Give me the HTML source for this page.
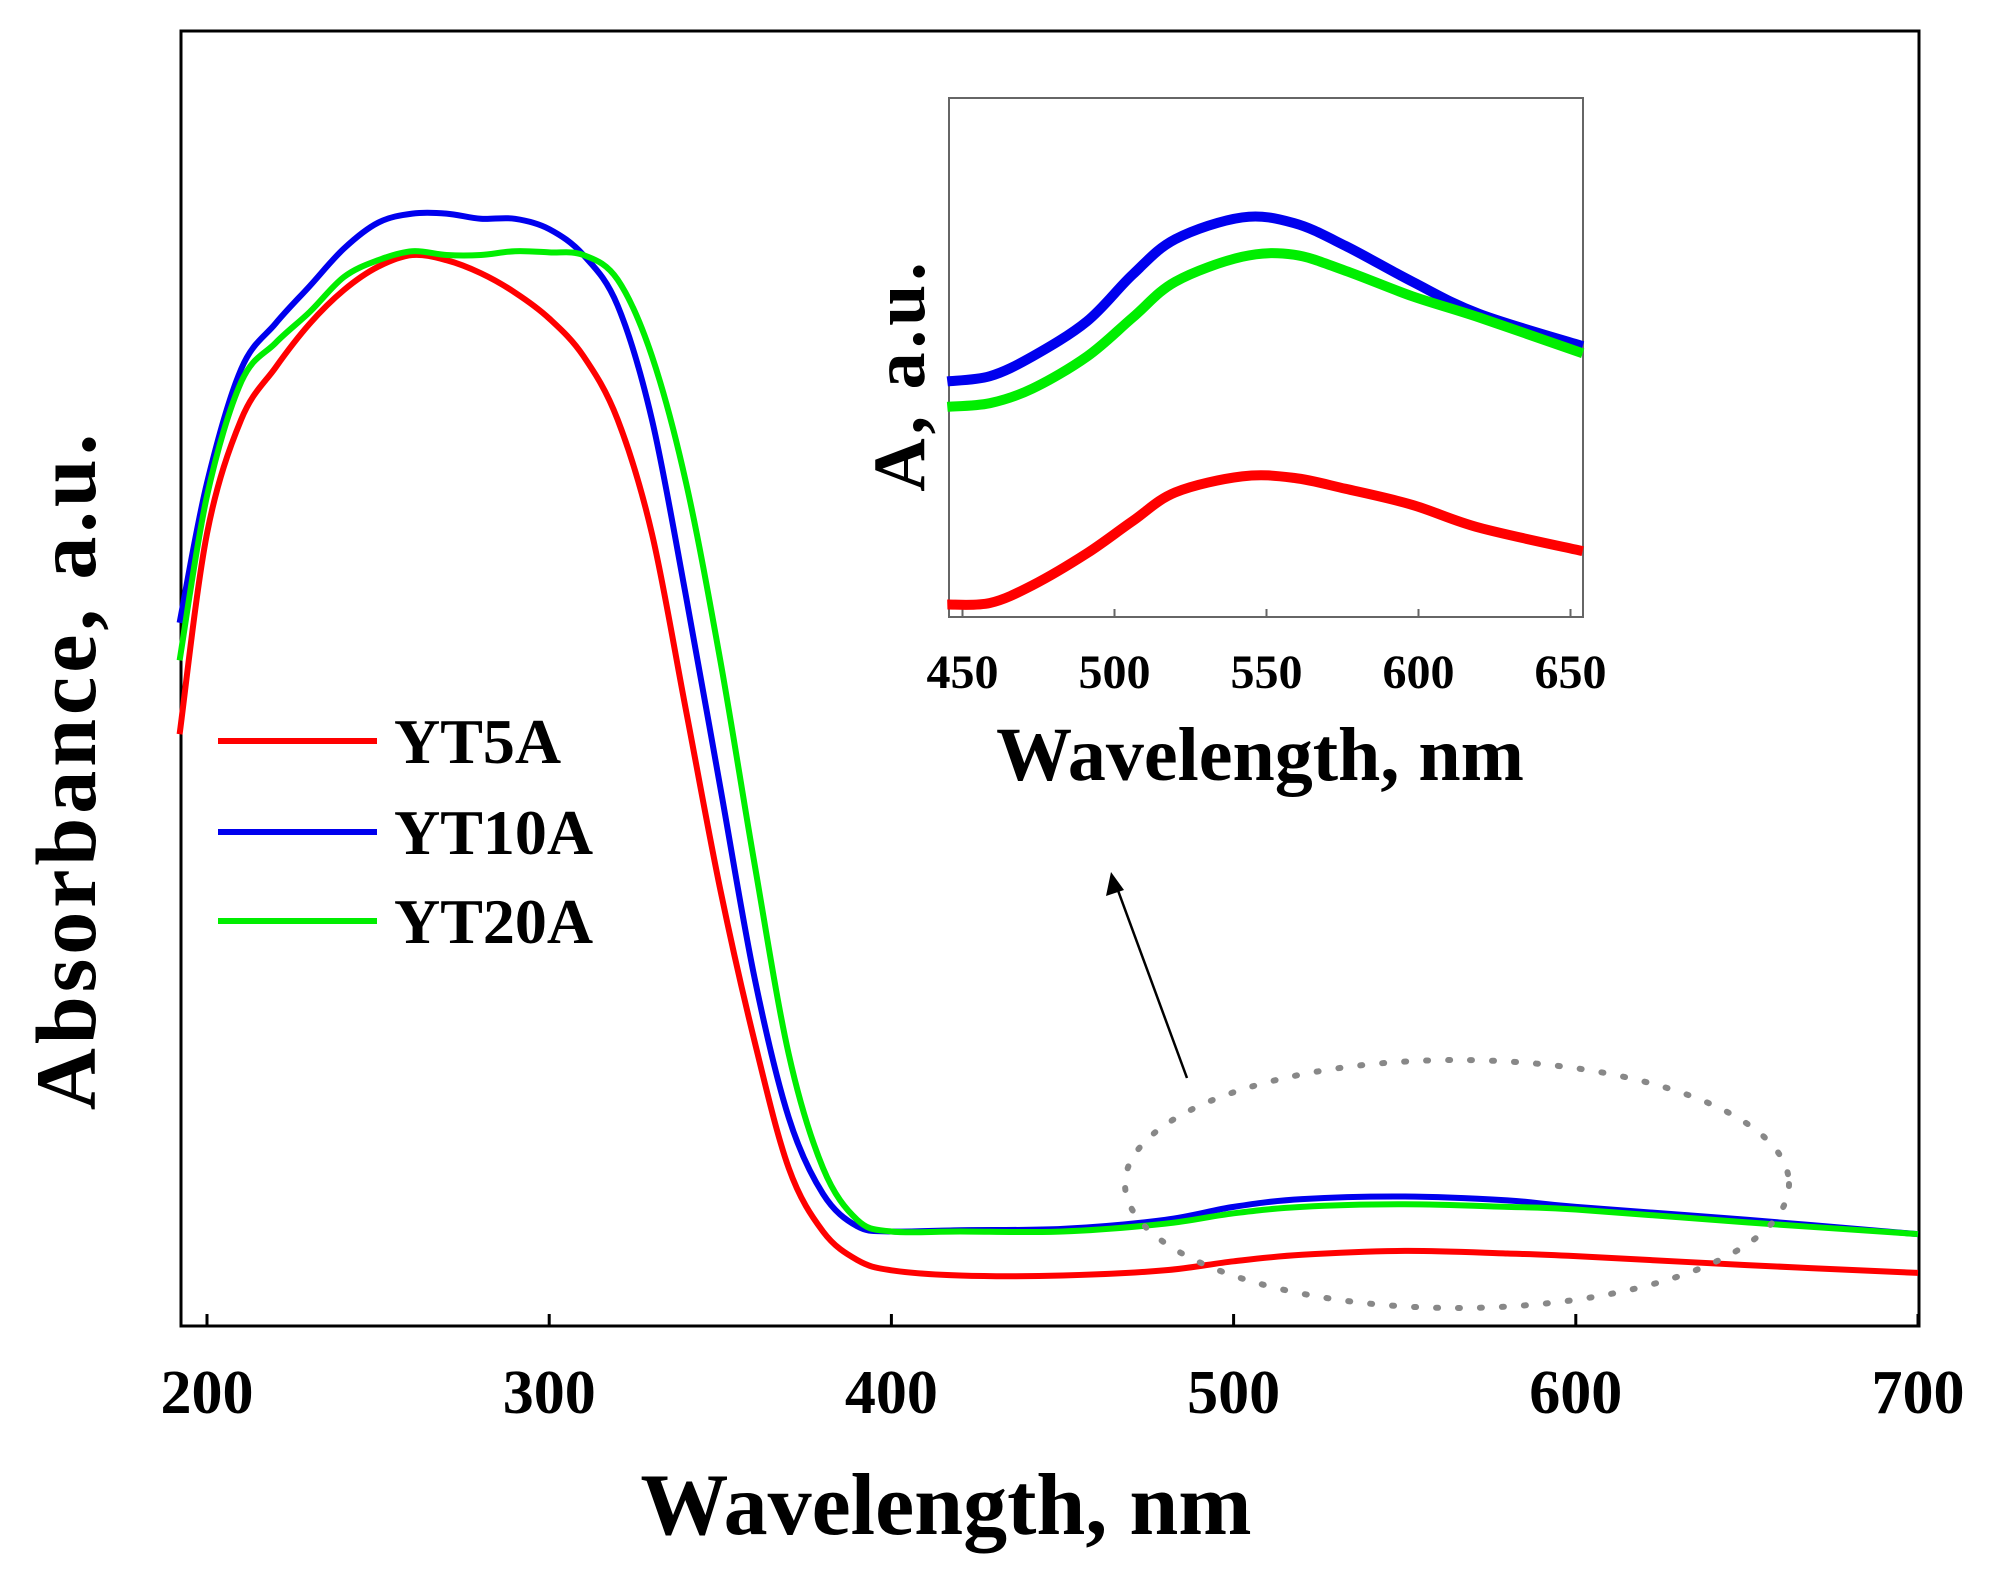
<!DOCTYPE html>
<html><head><meta charset="utf-8"><style>
html,body{margin:0;padding:0;background:#fff;}
svg{display:block;font-family:"Liberation Serif",serif;font-weight:bold;}
</style></head><body>
<svg id="chart" width="1990" height="1582" viewBox="0 0 1990 1582" xmlns="http://www.w3.org/2000/svg">
<rect x="181" y="31" width="1738" height="1295" fill="none" stroke="#000" stroke-width="3"/>
<g id="mainTicks"></g>
<g id="mainSeries"></g>
<text x="946" y="1534" font-size="88" text-anchor="middle">Wavelength, nm</text>
<text transform="translate(95,770) rotate(-90)" font-size="86" text-anchor="middle" letter-spacing="4">Absorbance, a.u.</text>
<g>
<line x1="218" y1="741" x2="377" y2="741" stroke="#f00" stroke-width="6"/>
<text x="394" y="763" font-size="64">YT5A</text>
<line x1="218" y1="832" x2="377" y2="832" stroke="#0000ee" stroke-width="6"/>
<text x="394" y="854" font-size="64">YT10A</text>
<line x1="218" y1="921" x2="377" y2="921" stroke="#00ee00" stroke-width="6"/>
<text x="394" y="943" font-size="64">YT20A</text>
</g>
<ellipse cx="1457" cy="1184" rx="332" ry="124" fill="none" stroke="#888" stroke-width="6" stroke-dasharray="2 20" stroke-linecap="round"/>
<g>
<line x1="1187" y1="1078" x2="1116" y2="885" stroke="#000" stroke-width="2.5"/>
<polygon points="1111,872 1106,896 1124,890" fill="#000"/>
</g>
<rect x="949" y="98" width="634" height="519" fill="#fff" stroke="#666" stroke-width="2"/>
<g id="insetTicks"></g>
<g id="insetSeries"></g>
<text x="1260" y="780" font-size="76" text-anchor="middle">Wavelength, nm</text>
<text transform="translate(924,375) rotate(-90)" font-size="74" text-anchor="middle" letter-spacing="4">A, a.u.</text>
</svg>
<script>
const NS="http://www.w3.org/2000/svg";
const mainWl=[192,200,210,220,230,240,250,260,270,280,290,300,310,320,330,340,350,360,370,380,390,400,420,450,480,500,520,550,580,600,650,700];
const yt5a=[0.457,0.612,0.70,0.74,0.774,0.80,0.818,0.827,0.823,0.813,0.798,0.778,0.749,0.70,0.612,0.475,0.337,0.22,0.122,0.073,0.051,0.043,0.039,0.039,0.043,0.05,0.055,0.058,0.056,0.054,0.047,0.041];
const yt10a=[0.543,0.651,0.739,0.774,0.803,0.832,0.852,0.859,0.859,0.855,0.855,0.847,0.827,0.788,0.70,0.563,0.416,0.269,0.161,0.102,0.077,0.073,0.074,0.075,0.082,0.092,0.098,0.10,0.097,0.092,0.082,0.071];
const yt20a=[0.514,0.641,0.729,0.759,0.783,0.81,0.823,0.83,0.827,0.827,0.83,0.829,0.827,0.808,0.749,0.651,0.514,0.357,0.21,0.122,0.082,0.073,0.073,0.073,0.079,0.087,0.092,0.094,0.092,0.09,0.08,0.071];
const mainTicks=[200,300,400,500,600,700];
const insetWl=[445,459,473,491,506,520,542,559,576,598,620,654];
const inYt5a=[0.024,0.027,0.061,0.123,0.185,0.240,0.271,0.268,0.247,0.216,0.172,0.127];
const inYt10a=[0.454,0.464,0.502,0.570,0.660,0.728,0.770,0.759,0.715,0.646,0.584,0.522];
const inYt20a=[0.405,0.412,0.440,0.502,0.577,0.646,0.694,0.698,0.667,0.618,0.577,0.508];
const insetTicks=[450,500,550,600,650];

const mx=w=>207+(w-200)*3.422;
const my=a=>1326-a*1295;
const ix=w=>962.5+(w-450)*3.04;
const iy=a=>617-a*519;

function smoothPath(xs,ys,fx,fy){
  const p=xs.map((x,i)=>[fx(x),fy(ys[i])]);
  let d="M"+p[0][0].toFixed(1)+","+p[0][1].toFixed(1);
  for(let i=0;i<p.length-1;i++){
    const p0=p[i-1]||p[i],p1=p[i],p2=p[i+1],p3=p[i+2]||p2;
    const c1=[p1[0]+(p2[0]-p0[0])/6,p1[1]+(p2[1]-p0[1])/6];
    const c2=[p2[0]-(p3[0]-p1[0])/6,p2[1]-(p3[1]-p1[1])/6];
    d+=" C"+c1[0].toFixed(1)+","+c1[1].toFixed(1)+" "+c2[0].toFixed(1)+","+c2[1].toFixed(1)+" "+p2[0].toFixed(1)+","+p2[1].toFixed(1);
  }
  return d;
}
const mg=document.getElementById("mainSeries");
[[yt5a,"#f00","series-yt5a"],[yt10a,"#0000ee","series-yt10a"],[yt20a,"#00ee00","series-yt20a"]].forEach(s=>{
  const el=document.createElementNS(NS,"path");
  el.setAttribute("d",smoothPath(mainWl,s[0],mx,my));
  el.setAttribute("fill","none");el.setAttribute("stroke",s[1]);el.setAttribute("stroke-width","6");
  
  
  mg.appendChild(el);
});
const ig=document.getElementById("insetSeries");
[[inYt5a,"#f00","inset-series-yt5a"],[inYt10a,"#0000ee","inset-series-yt10a"],[inYt20a,"#00ee00","inset-series-yt20a"]].forEach(s=>{
  const el=document.createElementNS(NS,"path");
  el.setAttribute("d",smoothPath(insetWl,s[0],ix,iy));
  el.setAttribute("fill","none");el.setAttribute("stroke",s[1]);el.setAttribute("stroke-width","10");
  
  
  ig.appendChild(el);
});
const mt=document.getElementById("mainTicks");
mainTicks.forEach(t=>{
  const l=document.createElementNS(NS,"line");
  l.setAttribute("x1",mx(t));l.setAttribute("x2",mx(t));l.setAttribute("y1",1326);l.setAttribute("y2",1314);
  l.setAttribute("stroke","#000");l.setAttribute("stroke-width","3");
  
  
  mt.appendChild(l);
  const tx=document.createElementNS(NS,"text");
  tx.setAttribute("x",mx(t));tx.setAttribute("y",1413);tx.setAttribute("font-size","62");tx.setAttribute("text-anchor","middle");
  tx.textContent=t;
  
  
  mt.appendChild(tx);
});
const it=document.getElementById("insetTicks");
insetTicks.forEach(t=>{
  const l=document.createElementNS(NS,"line");
  l.setAttribute("x1",ix(t));l.setAttribute("x2",ix(t));l.setAttribute("y1",617);l.setAttribute("y2",609);
  l.setAttribute("stroke","#666");l.setAttribute("stroke-width","2");
  
  
  it.appendChild(l);
  const tx=document.createElementNS(NS,"text");
  tx.setAttribute("x",ix(t));tx.setAttribute("y",688);tx.setAttribute("font-size","48");tx.setAttribute("text-anchor","middle");
  tx.textContent=t;
  
  
  it.appendChild(tx);
});
</script>
</body></html>
